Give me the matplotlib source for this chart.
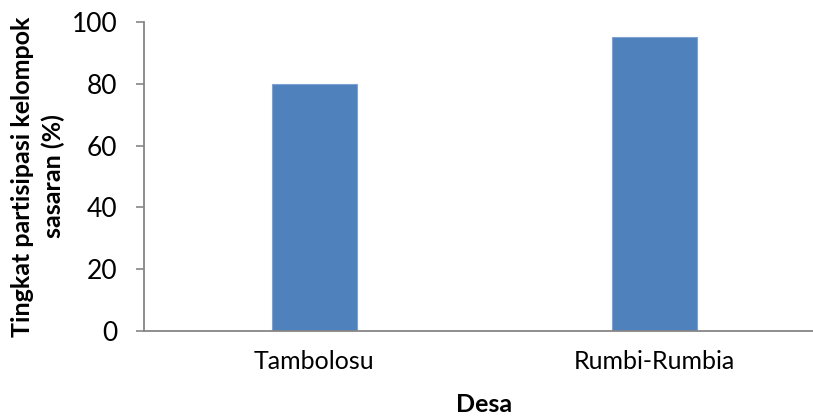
import matplotlib.pyplot as plt

desa = ['Tambolosu', 'Rumbi-Rumbia']
partisipasi = [80, 95]

plt.rcParams['font.family'] = ['Lato', 'DejaVu Sans']

fig = plt.figure(figsize=(8.13, 4.17), dpi=100)
ax = fig.add_axes([144 / 813, 86 / 417, 680 / 813, 309 / 417])

x = range(len(desa))
ax.bar(x, partisipasi, width=0.25, color='#4F81BD', edgecolor='#7EA3D3', linewidth=0.8)

ax.set_xlim(-0.5, 1.5)
ax.set_ylim(0, 100)
ax.set_yticks(range(0, 101, 20))
ax.set_xticks(list(x))
ax.set_xticklabels(desa, fontsize=18)
ax.tick_params(axis='y', labelsize=19, length=6, width=1.2, color='#868686', pad=13)
ax.tick_params(axis='x', length=0, pad=14)

for side in ['top', 'right']:
    ax.spines[side].set_visible(False)
for side in ['left', 'bottom']:
    ax.spines[side].set_color('#868686')
    ax.spines[side].set_linewidth(1.3)

ax.set_xlabel('Desa', fontsize=18, fontweight='bold', labelpad=14)
ax.set_ylabel('Tingkat partisipasi kelompok\nsasaran (%)', fontsize=18,
              fontweight='bold', labelpad=5, linespacing=1.4)

plt.savefig('out.png', dpi=100)
plt.close()
